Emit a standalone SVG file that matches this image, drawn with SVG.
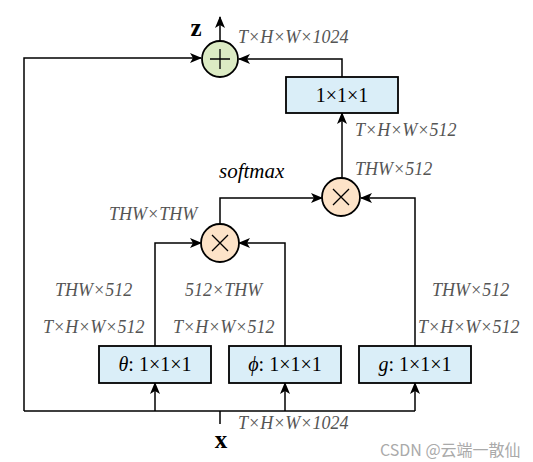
<svg xmlns="http://www.w3.org/2000/svg" width="533" height="462" viewBox="0 0 533 462">
<style>
.ln{fill:none;stroke:#000;stroke-width:1.5}
.ar{marker-end:url(#ah)}
.box{fill:#daeef8;stroke:#000;stroke-width:1.8}
.plus{fill:#dcebc4;stroke:#000;stroke-width:1.8}
.mul{fill:#fde3c8;stroke:#000;stroke-width:1.8}
.sym{fill:none;stroke:#000;stroke-width:1.3}
.dim{font-family:"Liberation Serif",serif;font-style:italic;font-size:18px;fill:#555}
.bt{font-family:"Liberation Serif",serif;font-size:20px;fill:#000;text-anchor:middle}
.big{font-family:"Liberation Serif",serif;font-weight:bold;font-size:25px;fill:#000;text-anchor:middle}
.wm{font-family:"Noto Sans CJK SC","Noto Sans",sans-serif;font-size:16px;fill:#aaa}
</style>
<defs>
<marker id="ah" viewBox="0 0 12 10" refX="11" refY="5" markerWidth="12" markerHeight="10" markerUnits="userSpaceOnUse" orient="auto">
<path d="M0,0 L12,5 L0,10 L3,5 Z" fill="#000"/>
</marker>
</defs>
<g id="connectors">
<path class="ln ar" d="M24,411 V58 H201"/>
<path class="ln ar" d="M342,77 V59 H239"/>
<path class="ln ar" d="M220,41 V17"/>
<path class="ln ar" d="M342,178 V113"/>
<path class="ln ar" d="M220,223 V198 H322"/>
<path class="ln ar" d="M415,346 V198 H361"/>
<path class="ln ar" d="M155,346 V243 H201"/>
<path class="ln ar" d="M285,346 V243 H239"/>
<path class="ln" d="M24,411 H415 M220,411 V424"/>
<path class="ln ar" d="M155,411 V383"/>
<path class="ln ar" d="M285,411 V383"/>
<path class="ln ar" d="M415,411 V383"/>
</g>
<g id="add">
<circle class="plus" cx="220" cy="59" r="18"/>
<path class="sym" d="M220,49 V69 M210,59 H230"/>
</g>
<g id="conv_out">
<rect class="box" x="286" y="77" width="112" height="36"/>
<text class="bt" x="342" y="102">1×1×1</text>
</g>
<g id="mul1">
<circle class="mul" cx="341" cy="197" r="19"/>
<path class="sym" d="M333,189 L349,205 M349,189 L333,205"/>
</g>
<g id="mul2">
<circle class="mul" cx="220" cy="243" r="19"/>
<path class="sym" d="M212,235 L228,251 M228,235 L212,251"/>
</g>
<g id="theta">
<rect class="box" x="99" y="346" width="112" height="37"/>
<text class="bt" x="155" y="371"><tspan font-style="italic">θ</tspan>: 1×1×1</text>
</g>
<g id="phi">
<rect class="box" x="229" y="346" width="112" height="37"/>
<text class="bt" x="285" y="371"><tspan font-style="italic">ϕ</tspan>: 1×1×1</text>
</g>
<g id="g">
<rect class="box" x="359" y="346" width="112" height="37"/>
<text class="bt" x="415" y="371"><tspan font-style="italic">g</tspan>: 1×1×1</text>
</g>
<g id="labels">
<text class="big" x="196" y="36">z</text>
<text class="big" x="221" y="448">x</text>
<text class="dim" x="238" y="43">T×H×W×1024</text>
<text class="dim" x="238" y="429">T×H×W×1024</text>
<text class="dim" x="355" y="136">T×H×W×512</text>
<text class="dim" x="355" y="175">THW×512</text>
<text font-family="Liberation Serif,serif" font-style="italic" font-size="21" x="219" y="178">softmax</text>
<text class="dim" x="109" y="220">THW×THW</text>
<text class="dim" x="55" y="296">THW×512</text>
<text class="dim" x="43" y="333">T×H×W×512</text>
<text class="dim" x="185" y="296">512×THW</text>
<text class="dim" x="173" y="333">T×H×W×512</text>
<text class="dim" x="432" y="296">THW×512</text>
<text class="dim" x="418" y="333">T×H×W×512</text>
<text class="wm" x="380" y="456">CSDN @云端一散仙</text>
</g>
</svg>
